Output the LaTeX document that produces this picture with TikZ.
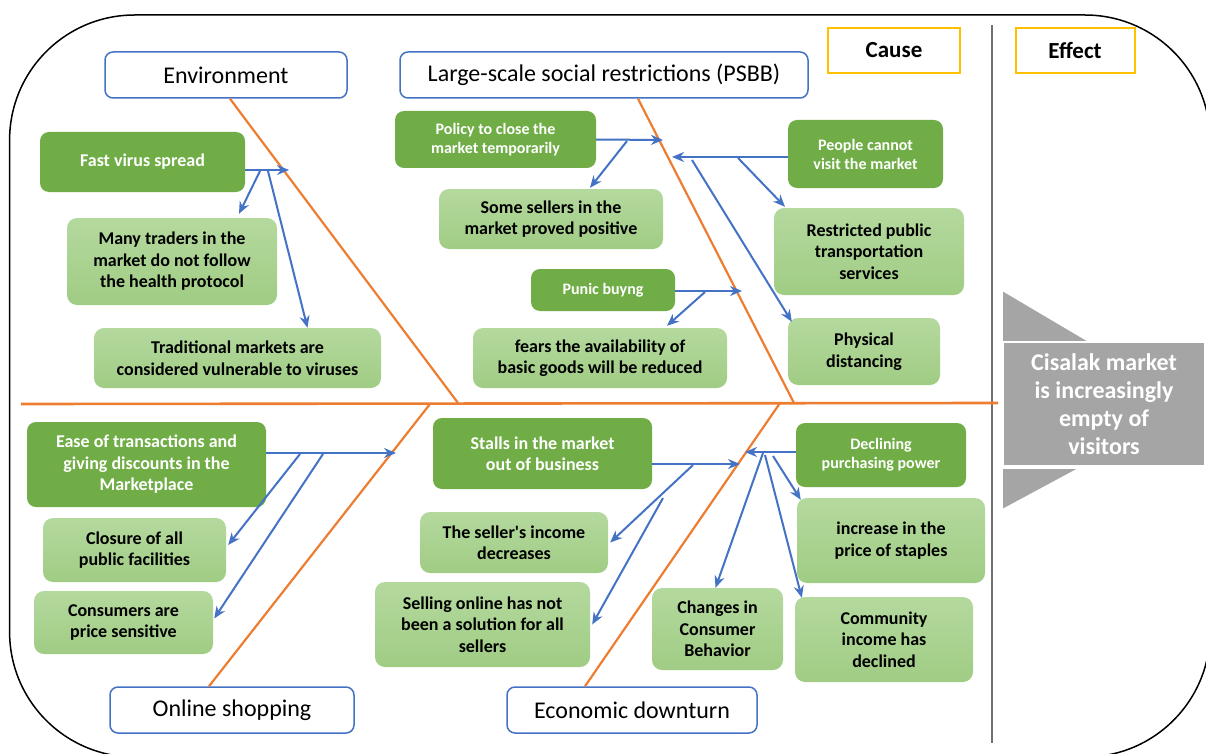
\documentclass[tikz,border=0pt]{standalone}
\usepackage{fontspec}
\setmainfont{Carlito}
\usetikzlibrary{arrows.meta}
\definecolor{dgreen}{HTML}{70AD47}
\definecolor{lgtop}{HTML}{B4D99E}
\definecolor{lgbot}{HTML}{A0CC84}
\definecolor{bonec}{HTML}{ED7D31}
\definecolor{arrc}{HTML}{4472C4}
\definecolor{ylw}{HTML}{FFC000}
\definecolor{effgray}{HTML}{A5A5A5}
\definecolor{divgray}{HTML}{707070}
\begin{document}
\begin{tikzpicture}[x=1pt,y=-1pt,
 hdr/.style={draw=arrc, line width=1.5pt, fill=white, rounded corners=8pt, font=\fontsize{24}{28}\selectfont, inner sep=0pt},
 dg/.style={fill=dgreen, rounded corners=9pt, text=white, font=\bfseries\fontsize{18}{21.5}\selectfont, align=center, inner sep=0pt},
 dgs/.style={dg, font=\bfseries\fontsize{16}{19}\selectfont},
 lg/.style={top color=lgtop, bottom color=lgbot, rounded corners=10pt, text=black, font=\bfseries\fontsize{18}{21.5}\selectfont, align=center, inner sep=0pt},
 lbl/.style={draw=ylw, line width=2pt, fill=white, font=\bfseries\fontsize{23}{27}\selectfont, inner sep=0pt},
 bonel/.style={draw=bonec, line width=2.2pt},
 arrow/.style={draw=arrc, line width=2pt, -{Stealth[length=12pt,width=10pt]}},
]
\useasboundingbox (0,0) rectangle (1206,754);
\fill[white] (0,0) rectangle (1206,754);
% outer frame
\begin{scope}
\clip (0,0) rectangle (1206,754);
\draw[line width=1.5pt, rounded corners=125pt] (9.6,15) rectangle (1210,757);
\end{scope}
% divider
\coordinate (dv0) at (992,25);
\coordinate (dv1) at (992,743);
\draw[divgray, line width=1.5pt] (dv0) -- (dv1);

% labels
\node[lbl, minimum width=132pt, minimum height=45pt] (cause) at (894,50.5) {Cause};
\node[lbl, minimum width=119pt, minimum height=45pt] (effectlbl) at (1075,50.5) {Effect};

% headers
\node[hdr, minimum width=242pt, minimum height=46pt] (env) at (226,75) {Environment};
\node[hdr, minimum width=408pt, minimum height=46pt] (psbb) at (604,75) {Large-scale social restrictions (PSBB)};
\node[hdr, minimum width=244pt, minimum height=46pt] (online) at (232,710) {Online shopping};
\node[hdr, minimum width=250pt, minimum height=46pt] (econ) at (632,710) {Economic downturn};

% spine and bones
\coordinate (sp0) at (21,404);
\coordinate (sp1) at (998,403);
\draw[bonel, line width=2.6pt] (sp0) -- (sp1);
\coordinate (envend) at (458,403);
\coordinate (psbbend) at (794,403);
\coordinate (onlend) at (430,404);
\coordinate (econend) at (780,403);
\draw[bonel] ([xshift=4pt]env.south) -- (envend);
\draw[bonel] ([xshift=34pt]psbb.south) -- (psbbend);
\draw[bonel] ([xshift=-23pt]online.north) -- (onlend);
\draw[bonel] ([xshift=-47pt]econ.north) -- (econend);

% effect shape
\fill[effgray, draw=white, line width=1.5pt] (1002,290) -- (1090,342) -- (1002,342) -- cycle;
\fill[effgray, draw=white, line width=1.5pt] (1002,468) -- (1080,468) -- (1002,510) -- cycle;
\node[fill=effgray, draw=white, line width=1.5pt, minimum width=201pt, minimum height=124pt, inner sep=0pt, text=white, align=center, font=\bfseries\fontsize{24}{28}\selectfont] (effect) at (1104,404) {Cisalak market\\is increasingly\\empty of\\visitors};

% Environment
\node[dg, minimum width=205pt, minimum height=60pt] (fast) at (142.5,162) {Fast virus spread};
\node[lg, minimum width=210pt, minimum height=87pt] (many) at (172,261.5) {Many traders in the\\market do not follow\\the health protocol};
\node[lg, minimum width=287pt, minimum height=60pt] (trad) at (237.5,358) {Traditional markets are\\considered vulnerable to viruses};

% PSBB
\node[dgs, minimum width=201pt, minimum height=57pt] (policy) at (495.5,139.5) {Policy to close the\\market temporarily};
\node[lg, minimum width=224pt, minimum height=60pt] (some) at (551,219) {Some sellers in the\\market proved positive};
\node[dgs, minimum width=144pt, minimum height=42pt] (punic) at (603,290) {Punic buyng};
\node[lg, minimum width=254pt, minimum height=60pt] (fears) at (600,358) {fears the availability of\\basic goods will be reduced};
\node[dgs, minimum width=155pt, minimum height=68pt] (people) at (865.5,154) {People cannot\\visit the market};
\node[lg, minimum width=190pt, minimum height=87pt] (restricted) at (869,251.5) {Restricted public\\transportation\\services};
\node[lg, minimum width=152pt, minimum height=67pt] (physical) at (864,351.5) {Physical\\distancing};

% Online shopping
\node[dg, minimum width=239pt, minimum height=85pt] (ease) at (146.5,464.5) {Ease of transactions and\\giving discounts in the\\Marketplace};
\node[lg, minimum width=183pt, minimum height=64pt] (closure) at (134.5,550) {Closure of all\\public facilities};
\node[lg, minimum width=179pt, minimum height=63pt] (consumers) at (123.5,622.5) {Consumers are\\price sensitive};

% Economic downturn
\node[dg, minimum width=219pt, minimum height=71pt] (stalls) at (542.5,453.5) {Stalls in the market\\out of business};
\node[lg, minimum width=188pt, minimum height=61pt] (seller) at (514,542.5) {The seller\textquotesingle s income\\decreases};
\node[lg, minimum width=215pt, minimum height=85pt] (selling) at (482.5,624.5) {Selling online has not\\been a solution for all\\sellers};
\node[lg, minimum width=131pt, minimum height=82pt] (changes) at (717.5,629) {Changes in\\Consumer\\Behavior};
\node[dgs, minimum width=170pt, minimum height=64pt] (declining) at (881,455) {Declining\\purchasing power};
\node[lg, minimum width=188pt, minimum height=85pt] (increase) at (891,540.5) {increase in the\\price of staples};
\node[lg, minimum width=178pt, minimum height=85pt] (community) at (884,639.5) {Community\\income has\\declined};

% arrows - Environment
\coordinate (t1) at (289,170);
\coordinate (b1) at (260,171);
\coordinate (b2) at (268,171);
\draw[arrow] ([yshift=-8pt]fast.east) -- (t1);
\draw[arrow] (b1) -- ([xshift=67pt,yshift=4pt]many.north);
\draw[arrow] (b2) -- ([xshift=70pt]trad.north);
% arrows - PSBB
\coordinate (t2) at (663,140);
\coordinate (b3) at (627,141);
\draw[arrow] (policy.east) -- (t2);
\draw[arrow] (b3) -- ([xshift=39pt,yshift=1pt]some.north);
\coordinate (t3) at (672,157);
\coordinate (b4) at (738,158);
\coordinate (b5) at (692,160);
\draw[arrow] ([yshift=-3pt]people.west) -- (t3);
\draw[arrow] (b4) -- ([xshift=-84pt,yshift=1pt]restricted.north);
\draw[arrow] (b5) -- ([xshift=4pt,yshift=-4pt]physical.north west);
\coordinate (t4) at (742,291);
\coordinate (b6) at (705,292);
\draw[arrow] ([yshift=-1pt]punic.east) -- (t4);
\draw[arrow] (b6) -- ([xshift=67pt,yshift=2pt]fears.north);
% arrows - Online shopping
\coordinate (t5) at (396,453);
\coordinate (b7) at (300,454);
\coordinate (b8) at (323,454);
\draw[arrow] ([yshift=11.5pt]ease.east) -- (t5);
\draw[arrow] (b7) -- ([xshift=2pt,yshift=5pt]closure.east);
\draw[arrow] (b8) -- ([xshift=1pt,yshift=4pt]consumers.east);
% arrows - Economic downturn
\coordinate (t6) at (740,464);
\coordinate (b9) at (693,465);
\coordinate (b10) at (663,498);
\draw[arrow] ([yshift=-10.5pt]stalls.east) -- (t6);
\draw[arrow] (b9) -- ([xshift=2pt]seller.east);
\draw[arrow] (b10) -- ([xshift=2pt]selling.east);
\coordinate (t7) at (745,452);
\coordinate (b11) at (763,453);
\coordinate (b12) at (773,456);
\coordinate (b13) at (765,455);
\draw[arrow] ([yshift=3pt]declining.west) -- (t7);
\draw[arrow] (b11) -- ([xshift=-2pt]changes.north);
\draw[arrow] (b12) -- ([xshift=4pt,yshift=-2pt]increase.north west);
\draw[arrow] (b13) -- ([xshift=7pt,yshift=-1pt]community.north west);
\end{tikzpicture}
\end{document}
